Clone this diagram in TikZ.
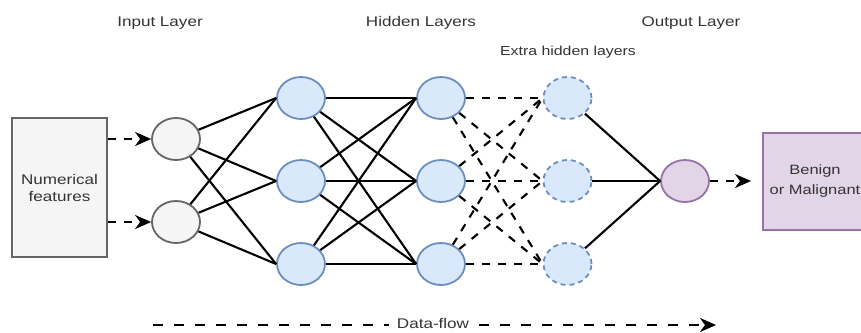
\documentclass[tikz,border=0pt]{standalone}
\usepackage{fontspec}
\usepackage{graphicx}
\setmainfont{Liberation Sans}
\usetikzlibrary{arrows.meta,shapes.geometric}
\definecolor{grayfill}{HTML}{F5F5F5}
\definecolor{grayline}{HTML}{666666}
\definecolor{bluefill}{HTML}{DAE8FC}
\definecolor{blueline}{HTML}{6C8EBF}
\definecolor{purpfill}{HTML}{E1D5E7}
\definecolor{purpline}{HTML}{9673A6}
\definecolor{txt}{HTML}{333333}
\newcommand{\stx}[1]{\scalebox{1.22}[1]{#1}}
\begin{document}
\begin{tikzpicture}[x=1pt,y=-1pt,
  neuron/.style={ellipse,minimum width=48pt,minimum height=42pt,inner sep=0pt,line width=1.8pt},
  innode/.style={neuron,fill=grayfill,draw=grayline},
  hidnode/.style={neuron,fill=bluefill,draw=blueline},
  extnode/.style={neuron,fill=bluefill,draw=blueline,dash pattern=on 5pt off 4pt},
  outnode/.style={neuron,fill=purpfill,draw=purpline},
  lbl/.style={text=txt,font=\fontsize{14}{16}\selectfont,inner sep=0pt},
  conn/.style={line width=2.1pt,black},
  dconn/.style={line width=2.1pt,black,dash pattern=on 8pt off 8pt},
  tip/.style={-{Stealth[length=16pt,width=14pt,inset=5pt]}},
  flow/.style={line width=2.1pt,black,dash pattern=on 8pt off 8pt,tip},
  bigflow/.style={line width=2.2pt,black,dash pattern=on 10pt off 11pt}
]
\useasboundingbox (0,0) rectangle (861,332);

% titles
\node[lbl] (tin) at (160,23) {\stx{Input Layer}};
\node[lbl] (thid) at (421,23) {\stx{Hidden Layers}};
\node[lbl] (tout) at (691,23) {\stx{Output Layer}};
\node[lbl,font=\fontsize{13}{15}\selectfont] (text) at (568,52) {\stx{Extra hidden layers}};

% input box
\node[draw=grayline,fill=grayfill,line width=1.6pt,minimum width=95pt,minimum height=139pt,inner sep=0pt,
      lbl,align=center,font=\fontsize{14}{18}\selectfont] (box) at (59.5,187.5) {\stx{Numerical}\\[-1pt]\stx{features}};

% result box
\node[draw=purpline,fill=purpfill,line width=1.6pt,minimum width=104pt,minimum height=97pt,inner sep=0pt,
      lbl,align=center,font=\fontsize{13.5}{20}\selectfont] (res) at (815,181.5) {\stx{Benign}\\\stx{or Malignant}};

% neurons
\node[innode] (i1) at (176,139) {};
\node[innode] (i2) at (176,222) {};
\node[hidnode] (a1) at (301,98) {};
\node[hidnode] (a2) at (301,181) {};
\node[hidnode] (a3) at (301,264) {};
\node[hidnode] (b1) at (441,98) {};
\node[hidnode] (b2) at (441,181) {};
\node[hidnode] (b3) at (441,264) {};
\node[extnode] (e1) at (567.5,98) {};
\node[extnode] (e2) at (567.5,181) {};
\node[extnode] (e3) at (567.5,264) {};
\node[outnode] (o) at (685,181) {};

% connections
\foreach \s in {i1,i2} \foreach \t in {a1,a2,a3} \draw[conn] (\s) -- (\t.west);
\foreach \s in {a1,a2,a3} \foreach \t in {b1,b2,b3} \draw[conn] (\s) -- (\t.west);
\foreach \s in {b1,b2,b3} \foreach \t in {e1,e2,e3} \draw[dconn] (\s) -- (\t.west);
\foreach \s in {e1,e2,e3} \draw[conn] (\s) -- (o.west);

% input arrows
\draw[flow] (box.east |- i1) -- (i1.west);
\draw[flow] (box.east |- i2) -- (i2.west);
\coordinate (oa) at (751,181);
\draw[flow] (o.east) -- (oa);

% data-flow
\coordinate (df1) at (153,325);
\coordinate (dfa) at (389,325);
\coordinate (dfb) at (479,325);
\coordinate (df2) at (716,325);
\node[lbl] (dft) at (433,323) {\stx{Data-flow}};
\draw[bigflow] (df1) -- (dfa);
\draw[bigflow,tip] (dfb) -- (df2);
\end{tikzpicture}
\end{document}
